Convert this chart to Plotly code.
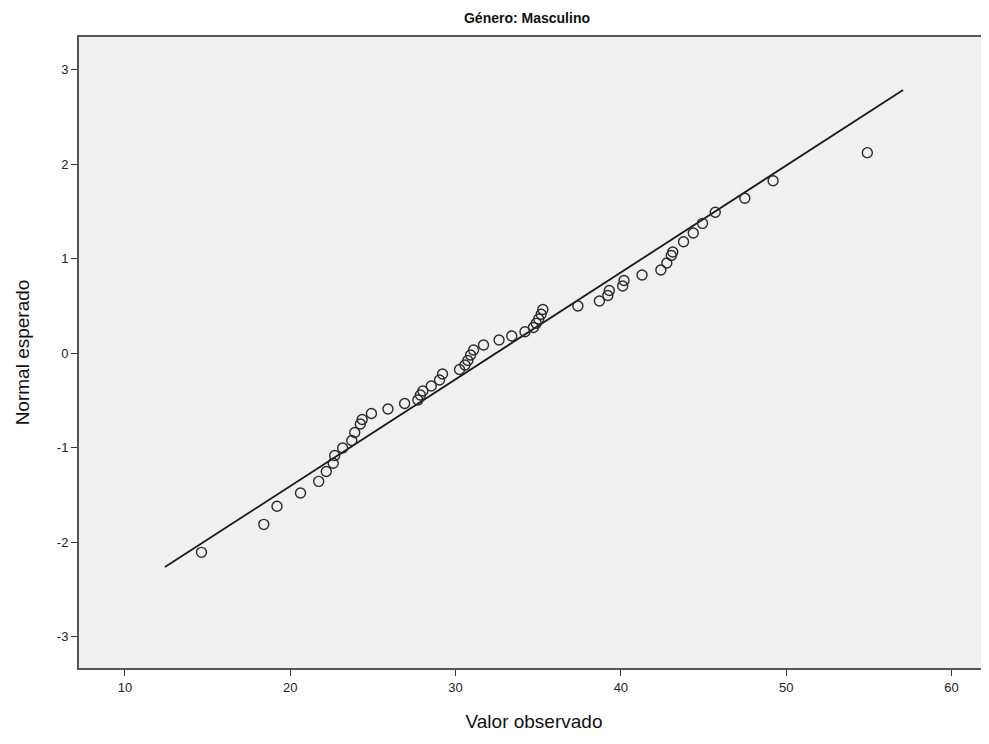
import plotly.graph_objects as go

observed = [14.63, 18.40, 19.20, 20.62, 21.72, 22.18, 22.60, 22.69, 23.17, 23.72,
            23.90, 24.24, 24.35, 24.91, 25.91, 26.92, 27.72, 27.87, 28.02, 28.53,
            29.03, 29.21, 30.24, 30.57, 30.74, 30.91, 31.09, 31.69, 32.63, 33.40,
            34.20, 34.71, 34.88, 35.03, 35.18, 35.28, 37.40, 38.70, 39.21, 39.30,
            40.11, 40.19, 41.28, 42.42, 42.78, 43.05, 43.14, 43.79, 44.38, 44.94,
            45.71, 47.50, 49.21, 54.91]
expected = [-2.109, -1.813, -1.622, -1.481, -1.358, -1.254, -1.167, -1.085, -1.005, -0.926,
            -0.841, -0.751, -0.704, -0.640, -0.593, -0.534, -0.497, -0.444, -0.402, -0.349,
            -0.286, -0.222, -0.175, -0.127, -0.079, -0.021, 0.032, 0.085, 0.138, 0.180,
            0.225, 0.270, 0.314, 0.360, 0.410, 0.460, 0.497, 0.550, 0.608, 0.661,
            0.709, 0.767, 0.825, 0.878, 0.952, 1.032, 1.069, 1.178, 1.270, 1.372,
            1.489, 1.637, 1.823, 2.120]

# Reference line endpoints
line_x = [12.42, 57.07]
line_y = [-2.265, 2.783]

x_ticks = [10, 20, 30, 40, 50, 60]
x_labels = ["10", "20", "30", "40", "50", "60"]
y_ticks = [-3, -2, -1, 0, 1, 2, 3]
y_labels = ["-3", "-2", "-1", "0", "1", "2", "3"]

font_family = "Liberation Sans, Arial, sans-serif"

W, H = 981, 736

fig = go.Figure()
fig.add_trace(go.Scatter(
    x=line_x, y=line_y, mode="lines",
    line=dict(color="#1a1a1a", width=1.8),
    hoverinfo="skip", showlegend=False,
))
fig.add_trace(go.Scatter(
    x=observed, y=expected, mode="markers",
    marker=dict(symbol="circle-open", size=10, color="#2a2a2a",
                line=dict(width=1.4, color="#2a2a2a")),
    showlegend=False,
))

fig.update_layout(
    width=W, height=H,
    margin=dict(l=71, r=0, t=29, b=76),
    paper_bgcolor="white",
    plot_bgcolor="#f0f0f0",
    font=dict(family=font_family, color="#222222"),
    title=dict(text="<b>Género: Masculino</b>", x=(527 - 8) / W, xanchor="center",
               y=1 - 10 / H, yanchor="middle", yref="container",
               font=dict(size=14, family=font_family, color="#111111")),
)
fig.update_xaxes(
    range=[7.22, 62.27], tickvals=x_ticks, ticktext=x_labels,
    showgrid=False, zeroline=False,
    showline=True, linecolor="#555555", linewidth=2, mirror=True,
    ticks="outside", ticklen=6, tickwidth=1, tickcolor="#333333",
    tickfont=dict(size=13, color="#222222"),
    title=dict(text="Valor observado", font=dict(size=19, color="#111111"), standoff=21),
)
fig.update_yaxes(
    range=[-3.333, 3.344], tickvals=y_ticks, ticktext=y_labels,
    showgrid=False, zeroline=False,
    showline=True, linecolor="#555555", linewidth=2, mirror=False,
    ticks="outside", ticklen=6, tickwidth=1, tickcolor="#333333",
    tickfont=dict(size=13, color="#222222"),
    title=dict(text="Normal esperado", font=dict(size=19, color="#111111"), standoff=22),
)

fig.write_html("out.html")
